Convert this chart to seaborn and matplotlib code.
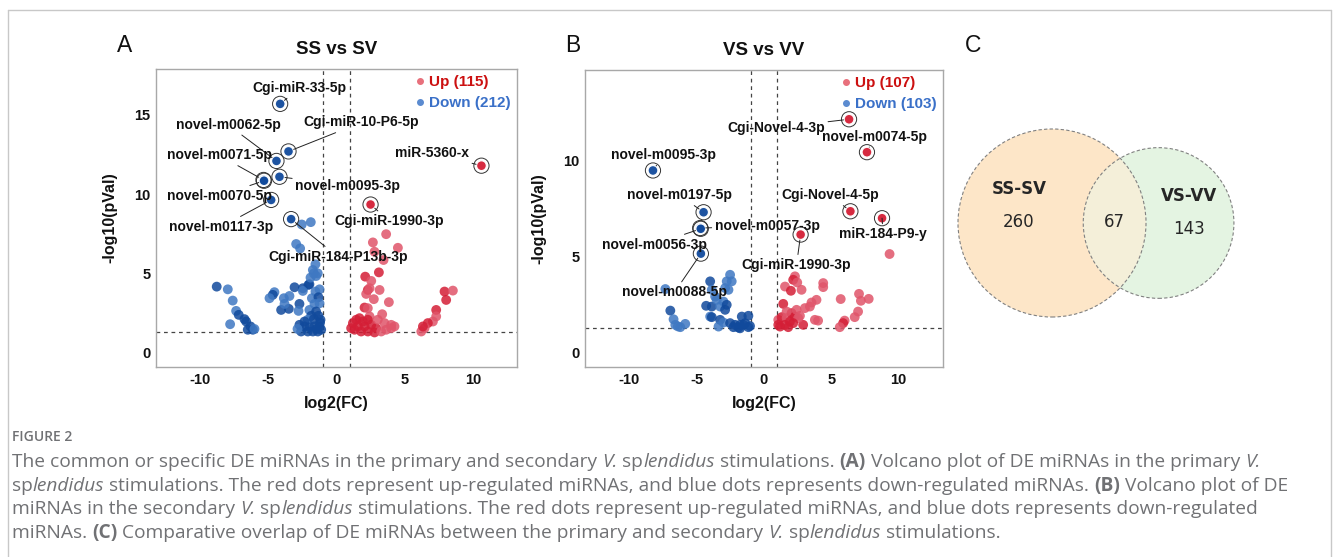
import numpy as np
import pandas as pd
import matplotlib
matplotlib.use("Agg")
import matplotlib.pyplot as plt
import seaborn as sns
from matplotlib.lines import Line2D
from matplotlib.patches import Circle

# ---------------- data ----------------
# (log2FC, -log10 pVal, tone)  tone 1 = dark dot, 0 = light dot
a_down = [
    (-8.76, 4.17, 1), (-7.95, 4.00, 0), (-7.59, 3.29, 0), (-7.34, 2.64, 0), (-7.15, 2.39, 1),
    (-6.73, 2.12, 1), (-6.61, 1.97, 1), (-7.78, 1.80, 0), (-6.49, 1.45, 1), (-6.12, 1.45, 1),
    (-6.29, 1.66, 1), (-6.00, 1.50, 0), (-4.54, 3.82, 0), (-4.66, 3.65, 1), (-4.90, 3.44, 0),
    (-3.85, 3.44, 0), (-3.44, 3.58, 0), (-3.07, 4.13, 1), (-2.46, 4.07, 1), (-2.05, 4.28, 1),
    (-2.46, 3.90, 0), (-4.05, 2.70, 1), (-3.49, 2.77, 1), (-3.80, 3.08, 0), (-2.71, 3.08, 1),
    (-2.78, 2.64, 0), (-1.98, 4.32, 1), (-1.90, 4.74, 0), (-1.37, 5.01, 0), (-1.66, 5.00, 0),
    (-1.80, 3.44, 0), (-1.54, 3.86, 0), (-1.24, 4.00, 0), (-1.32, 3.50, 1), (-1.61, 3.08, 0),
    (-1.24, 3.12, 0), (-1.98, 2.70, 0), (-1.49, 2.60, 1), (-1.85, 2.33, 1), (-1.32, 2.33, 1),
    (-2.10, 2.08, 0), (-1.66, 2.12, 1), (-1.17, 2.08, 1), (-2.71, 1.76, 1), (-2.34, 1.66, 1),
    (-1.98, 1.61, 1), (-1.61, 1.66, 1), (-1.24, 1.66, 1), (-2.59, 1.34, 1), (-2.10, 1.34, 1),
    (-1.73, 1.34, 1), (-1.37, 1.34, 1), (-1.12, 1.45, 1), (-2.34, 1.97, 1), (-1.73, 5.22, 0),
    (-1.49, 4.84, 0), (-1.54, 5.58, 0), (-2.54, 8.09, 0), (-1.88, 8.24, 0), (-2.95, 6.86, 0),
    (-2.66, 6.58, 0), (-1.20, 1.90, 1), (-1.45, 1.50, 1), (-2.85, 1.50, 0),
]
a_up = [
    (3.63, 7.48, 0), (2.66, 6.96, 0), (4.49, 6.62, 0), (2.78, 6.37, 0), (3.44, 5.85, 0),
    (3.10, 5.07, 1), (2.10, 4.80, 1), (2.54, 4.53, 0), (2.29, 3.96, 1), (2.42, 4.07, 0),
    (2.17, 3.71, 0), (3.15, 3.96, 0), (2.73, 3.38, 0), (3.83, 3.19, 0), (2.05, 2.85, 1),
    (2.29, 2.81, 0), (3.34, 2.43, 0), (2.42, 2.29, 0), (7.90, 3.86, 1), (8.51, 3.92, 0),
    (8.02, 3.33, 1), (7.29, 2.70, 1), (7.29, 2.29, 0), (7.05, 1.97, 0), (6.68, 1.87, 1),
    (6.44, 1.55, 0), (6.20, 1.34, 0), (6.32, 1.66, 1), (1.20, 1.87, 1), (1.44, 2.08, 1),
    (1.68, 2.18, 1), (1.93, 1.97, 1), (2.29, 2.08, 1), (1.56, 1.66, 1), (2.05, 1.66, 1),
    (2.54, 1.76, 1), (2.90, 1.55, 1), (1.32, 1.45, 1), (1.80, 1.34, 1), (2.29, 1.34, 1),
    (2.78, 1.28, 1), (3.27, 1.34, 0), (3.63, 1.45, 0), (4.00, 1.55, 0), (4.24, 1.66, 0),
    (3.02, 2.08, 0), (3.51, 1.87, 0), (1.07, 1.55, 1), (4.00, 1.76, 0),
]
a_labels = [
    ("Cgi-miR-33-5p", -4.12, 15.70, "Down"),
    ("Cgi-miR-10-P6-5p", -3.51, 12.70, "Down"),
    ("novel-m0062-5p", -4.39, 12.10, "Down"),
    ("novel-m0071-5p", -5.34, 10.90, "Down"),
    ("novel-m0095-3p", -4.17, 11.10, "Down"),
    ("novel-m0070-5p", -5.30, 10.85, "Down"),
    ("novel-m0117-3p", -4.78, 9.64, "Down"),
    ("Cgi-miR-184-P13b-3p", -3.32, 8.43, "Down"),
    ("miR-5360-x", 10.60, 11.80, "Up"),
    ("Cgi-miR-1990-3p", 2.49, 9.35, "Up"),
]
a_counts = {"Up": 115, "Down": 212}

b_down = [
    (-7.33, 3.32, 0), (-6.96, 2.20, 1), (-6.72, 1.75, 0), (-6.59, 1.46, 0), (-6.22, 1.34, 0),
    (-5.85, 1.51, 0), (-6.40, 1.38, 0), (-4.00, 3.72, 1), (-3.88, 2.41, 1), (-3.26, 2.41, 0),
    (-3.01, 2.67, 0), (-2.64, 3.28, 0), (-2.52, 4.06, 0), (-2.77, 3.72, 0), (-3.63, 2.93, 0),
    (-2.89, 2.24, 1), (-2.77, 2.50, 1), (-4.00, 1.89, 0), (-3.26, 1.72, 1), (-3.01, 1.58, 0),
    (-2.52, 1.55, 1), (-2.15, 1.46, 1), (-1.78, 1.46, 1), (-1.41, 1.55, 1), (-1.16, 1.93, 1),
    (-1.65, 1.89, 1), (-2.27, 1.34, 1), (-1.78, 1.28, 1), (-1.16, 1.34, 1), (-1.04, 1.40, 1),
    (-4.30, 2.45, 1), (-3.88, 1.86, 1), (-3.51, 2.76, 0), (-3.38, 1.37, 0), (-2.40, 3.72, 0),
    (-2.89, 3.37, 0), (-3.88, 3.28, 0), (-1.90, 1.32, 1), (-1.53, 1.46, 1),
]
b_up = [
    (9.33, 5.14, 0), (2.30, 3.98, 0), (2.17, 3.80, 1), (2.47, 3.66, 0), (1.56, 3.45, 0),
    (2.00, 3.23, 1), (2.79, 3.28, 0), (4.40, 3.63, 0), (4.40, 3.42, 0), (7.06, 3.07, 0),
    (5.70, 2.80, 0), (7.20, 2.71, 0), (7.78, 2.81, 0), (3.90, 2.76, 0), (3.53, 2.62, 0),
    (1.43, 2.55, 1), (3.41, 2.41, 0), (3.04, 2.33, 0), (6.99, 2.15, 0), (6.74, 1.86, 0),
    (5.99, 1.68, 0), (5.88, 1.55, 1), (5.63, 1.34, 0), (3.78, 1.72, 0), (4.02, 1.68, 0),
    (2.91, 1.46, 1), (1.06, 1.72, 0), (1.31, 1.86, 1), (1.68, 1.81, 0), (2.05, 2.07, 1),
    (2.30, 1.89, 1), (2.54, 1.81, 0), (1.93, 1.63, 1), (1.56, 1.46, 1), (2.17, 1.55, 1),
    (1.19, 1.37, 1), (1.80, 1.34, 1), (2.67, 1.93, 0), (2.42, 2.24, 0), (1.68, 2.15, 0),
    (1.06, 1.46, 1),
]
b_labels = [
    ("novel-m0095-3p", -8.25, 9.48, "Down"),
    ("novel-m0197-5p", -4.49, 7.31, "Down"),
    ("novel-m0057-3p", -4.74, 6.49, "Down"),
    ("novel-m0056-3p", -4.70, 6.45, "Down"),
    ("novel-m0088-5p", -4.69, 5.16, "Down"),
    ("Cgi-Novel-4-3p", 6.32, 12.14, "Up"),
    ("novel-m0074-5p", 7.65, 10.43, "Up"),
    ("Cgi-Novel-4-5p", 6.42, 7.36, "Up"),
    ("miR-184-P9-y", 8.77, 7.00, "Up"),
    ("Cgi-miR-1990-3p", 2.72, 6.15, "Up"),
]
b_counts = {"Up": 107, "Down": 103}

venn_names = ["SS-SV", "VS-VV"]
venn_only = [260, 143]
venn_shared = 67

fc_cut = 1.0
p_cut = 0.05

# ---------------- layout ----------------
W, H = 1333, 557
a_text_pos = {
    "Cgi-miR-33-5p": (-2.7, 16.7), "Cgi-miR-10-P6-5p": (1.83, 14.53),
    "novel-m0062-5p": (-7.93, 14.38), "novel-m0071-5p": (-8.56, 12.45),
    "novel-m0095-3p": (0.83, 10.55), "novel-m0070-5p": (-8.56, 9.9),
    "novel-m0117-3p": (-8.41, 7.95), "Cgi-miR-184-P13b-3p": (0.1, 6.06),
    "miR-5360-x": (6.98, 12.6), "Cgi-miR-1990-3p": (3.88, 8.3),
}
b_text_pos = {
    "novel-m0095-3p": (-7.46, 10.28), "novel-m0197-5p": (-6.25, 8.19),
    "novel-m0057-3p": (0.25, 6.58), "novel-m0056-3p": (-8.17, 5.63),
    "novel-m0088-5p": (-6.64, 3.16), "Cgi-Novel-4-3p": (0.89, 11.70),
    "novel-m0074-5p": (8.17, 11.23), "Cgi-Novel-4-5p": (4.94, 8.19),
    "miR-184-P9-y": (8.86, 6.18), "Cgi-miR-1990-3p": (2.42, 4.58),
}

palette = {"Down dark": "#114a9c", "Down light": "#3f78c2",
           "Up dark": "#d41e36", "Up light": "#e0556a"}
core = {"Down": "#114a9c", "Up": "#d41e36"}
legend_dot = {"Up": "#e8707c", "Down": "#5b8bd0"}
legend_txt = {"Up": "#cc1010", "Down": "#3a70c8"}

sns.set_theme(style="white")
plt.rcParams["font.family"] = ["Liberation Sans", "DejaVu Sans"]
plt.rcParams["axes.unicode_minus"] = False

fig = plt.figure(figsize=(W / 100, H / 100), dpi=100)


def fx(px):
    return px / W


def fy(py):
    return 1 - py / H


def volcano(ax, down, up, labels, text_pos, counts, title, xlim, ylim, yticks):
    rows = [(x, y, "Down", t) for x, y, t in down] + [(x, y, "Up", t) for x, y, t in up]
    df = pd.DataFrame(rows, columns=["log2FC", "logP", "group", "tone"])
    df["shade"] = df["group"] + df["tone"].map({1: " dark", 0: " light"})
    sns.scatterplot(data=df, x="log2FC", y="logP", hue="shade", palette=palette,
                    s=50, linewidth=0, alpha=0.85, legend=False, ax=ax, zorder=2)

    lab = pd.DataFrame(labels, columns=["name", "log2FC", "logP", "group"])
    sns.scatterplot(data=lab, x="log2FC", y="logP", hue="group", palette=core,
                    s=50, edgecolor="white", linewidth=0.9, alpha=0.95,
                    legend=False, ax=ax, zorder=3)
    ax.scatter(lab["log2FC"], lab["logP"], s=120, facecolors="none",
               edgecolors="#333333", linewidths=0.7, zorder=3)
    for _, r in lab.iterrows():
        ax.annotate(r["name"], xy=(r["log2FC"], r["logP"]), xytext=text_pos[r["name"]],
                    ha="center", va="center", fontsize=10, fontweight="bold",
                    color="#111111", zorder=5,
                    arrowprops=dict(arrowstyle="-", color="#222222", lw=0.7,
                                    shrinkA=0, shrinkB=4))

    for v in (-fc_cut, fc_cut):
        ax.axvline(v, color="#444444", lw=0.9, ls=(0, (3, 3)), zorder=1)
    ax.axhline(-np.log10(p_cut), color="#444444", lw=0.9, ls=(0, (3, 3)), zorder=1)

    handles = [Line2D([], [], marker="o", ls="", color=legend_dot[g], markersize=4)
               for g in ("Up", "Down")]
    ax.legend(handles, [f"{g} ({counts[g]})" for g in ("Up", "Down")],
              loc="upper right", frameon=False, labelcolor=[legend_txt["Up"], legend_txt["Down"]],
              prop={"weight": "bold", "size": 11}, handlelength=0.6, handletextpad=0.3,
              borderaxespad=0.1, borderpad=0.3, labelspacing=0.45)

    ax.set_xlim(*xlim)
    ax.set_ylim(*ylim)
    ax.set_xticks([-10, -5, 0, 5, 10])
    ax.set_yticks(yticks)
    ax.tick_params(length=0, pad=4, labelsize=10.5)
    for t in ax.get_xticklabels() + ax.get_yticklabels():
        t.set_fontweight("bold")
        t.set_color("#111111")
    for s in ax.spines.values():
        s.set_color("#a8a8a8")
        s.set_linewidth(1.0)
    ax.set_xlabel("log2(FC)", fontsize=11.5, fontweight="bold", labelpad=7, color="#111111")
    ax.set_ylabel("-log10(pVal)", fontsize=11.5, fontweight="bold", labelpad=12, color="#111111")
    ax.set_title(title, fontsize=13.5, fontweight="bold", pad=11, color="#111111")


ax_a = fig.add_axes([fx(156), fy(367), fx(517) - fx(156), fy(69) - fy(367)])
volcano(ax_a, a_down, a_up, a_labels, a_text_pos, a_counts, "SS vs SV",
        (-13.2, 13.2), (-0.9, 17.9), [0, 5, 10, 15])

ax_b = fig.add_axes([fx(585), fy(367), fx(943) - fx(585), fy(70) - fy(367)])
volcano(ax_b, b_down, b_up, b_labels, b_text_pos, b_counts, "VS vs VV",
        (-13.3, 13.3), (-0.73, 14.7), [0, 5, 10])


# ---------------- Venn (area proportional) ----------------
def lens_area(r1, r2, d):
    a1 = r1 ** 2 * np.arccos((d ** 2 + r1 ** 2 - r2 ** 2) / (2 * d * r1))
    a2 = r2 ** 2 * np.arccos((d ** 2 + r2 ** 2 - r1 ** 2) / (2 * d * r2))
    a3 = 0.5 * np.sqrt((-d + r1 + r2) * (d + r1 - r2) * (d - r1 + r2) * (d + r1 + r2))
    return a1 + a2 - a3


r1 = np.sqrt((venn_only[0] + venn_shared) / np.pi)
r2 = np.sqrt((venn_only[1] + venn_shared) / np.pi)
lo, hi = abs(r1 - r2) + 1e-6, r1 + r2 - 1e-6
for _ in range(60):
    mid = (lo + hi) / 2
    if lens_area(r1, r2, mid) > venn_shared:
        lo = mid
    else:
        hi = mid
d = (lo + hi) / 2

k = 9.215          # pixels per unit
cx, cy = 1052, 223  # pixel position of the first circle centre
ax_c = fig.add_axes([fx(940), fy(380), fx(1330) - fx(940), fy(60) - fy(380)])
ax_c.set_xlim((940 - cx) / k, (1330 - cx) / k)
ax_c.set_ylim((cy - 380) / k, (cy - 60) / k)
ax_c.axis("off")

c1 = Circle((0, 0), r1, fc="#fde6c8", ec="none", zorder=1)
c2 = Circle((d, 0), r2, fc="#e4f4e2", ec="none", zorder=1)
ax_c.add_patch(c1)
ax_c.add_patch(c2)
c12 = Circle((d, 0), r2, fc="#f4efd9", ec="none", zorder=2)
ax_c.add_patch(c12)
c12.set_clip_path(c1)
for cc, rr in (((0, 0), r1), ((d, 0), r2)):
    ax_c.add_patch(Circle(cc, rr, fill=False, ec="#808080", lw=0.8,
                          ls=(0, (3, 2)), zorder=3))

venn_font = ["DejaVu Sans"]
ax_c.text(-3.58, 3.69, venn_names[0], ha="center", va="center", fontsize=12,
          fontweight="bold", family=venn_font)
ax_c.text(-3.58, 0.1, str(venn_only[0]), ha="center", va="center", fontsize=12, family=venn_font)
ax_c.text(6.73, 0.1, str(venn_shared), ha="center", va="center", fontsize=12, family=venn_font)
ax_c.text(14.87, 2.93, venn_names[1], ha="center", va="center", fontsize=12,
          fontweight="bold", family=venn_font)
ax_c.text(14.87, -0.65, str(venn_only[1]), ha="center", va="center", fontsize=12, family=venn_font)

# panel letters
for letter, px in (("A", 125), ("B", 573), ("C", 973)):
    fig.text(fx(px), fy(45), letter, ha="center", va="center", fontsize=16.5, color="#111111")

# frame around the figure
frame = "#c8c8c8"
fig.add_artist(Line2D([fx(8), fx(1331)], [fy(10), fy(10)], color=frame, lw=1))
fig.add_artist(Line2D([fx(8), fx(8)], [fy(10), 0], color=frame, lw=1))
fig.add_artist(Line2D([fx(1331), fx(1331)], [fy(10), 0], color=frame, lw=1))

# ---------------- caption ----------------
cap_color = "#707174"
cap_font = ["Open Sans", "DejaVu Sans"]
styles = {"n": dict(), "i": dict(style="italic"), "b": dict(weight="bold")}
caption = [
    [("The common or specific DE miRNAs in the primary and secondary ", "n"), ("V.", "i"),
     (" sp", "n"), ("lendidus", "i"), (" stimulations. ", "n"), ("(A)", "b"),
     (" Volcano plot of DE miRNAs in the primary ", "n"), ("V.", "i")],
    [("sp", "n"), ("lendidus", "i"),
     (" stimulations. The red dots represent up-regulated miRNAs, and blue dots represents down-regulated miRNAs. ", "n"),
     ("(B)", "b"), (" Volcano plot of DE", "n")],
    [("miRNAs in the secondary ", "n"), ("V.", "i"), (" sp", "n"), ("lendidus", "i"),
     (" stimulations. The red dots represent up-regulated miRNAs, and blue dots represents down-regulated", "n")],
    [("miRNAs. ", "n"), ("(C)", "b"),
     (" Comparative overlap of DE miRNAs between the primary and secondary ", "n"),
     ("V.", "i"), (" sp", "n"), ("lendidus", "i"), (" stimulations.", "n")],
]
baselines = [467, 491, 514, 538]
line1_width = 1243  # target pixel length of the first caption line

renderer = fig.canvas.get_renderer()


def advance(s, st, size):
    # pen advance of s, spaces included
    t1 = fig.text(0, 0, "x" + s + "x", fontsize=size, family=cap_font, **styles[st])
    t2 = fig.text(0, 0, "xx", fontsize=size, family=cap_font, **styles[st])
    w = t1.get_window_extent(renderer).width - t2.get_window_extent(renderer).width
    t1.remove()
    t2.remove()
    return w


base_size = 12.0
cap_size = base_size * line1_width / sum(advance(s, st, base_size) for s, st in caption[0])

fig.text(fx(12), fy(441), "FIGURE 2", fontsize=10, family=cap_font, color=cap_color,
         weight="semibold", va="baseline")
for parts, base in zip(caption, baselines):
    x = 12.0
    for text, st in parts:
        fig.text(fx(x), fy(base), text, fontsize=cap_size, family=cap_font,
                 color=cap_color, va="baseline", **styles[st])
        x += advance(text, st, cap_size)

fig.savefig("out.png", dpi=100)
